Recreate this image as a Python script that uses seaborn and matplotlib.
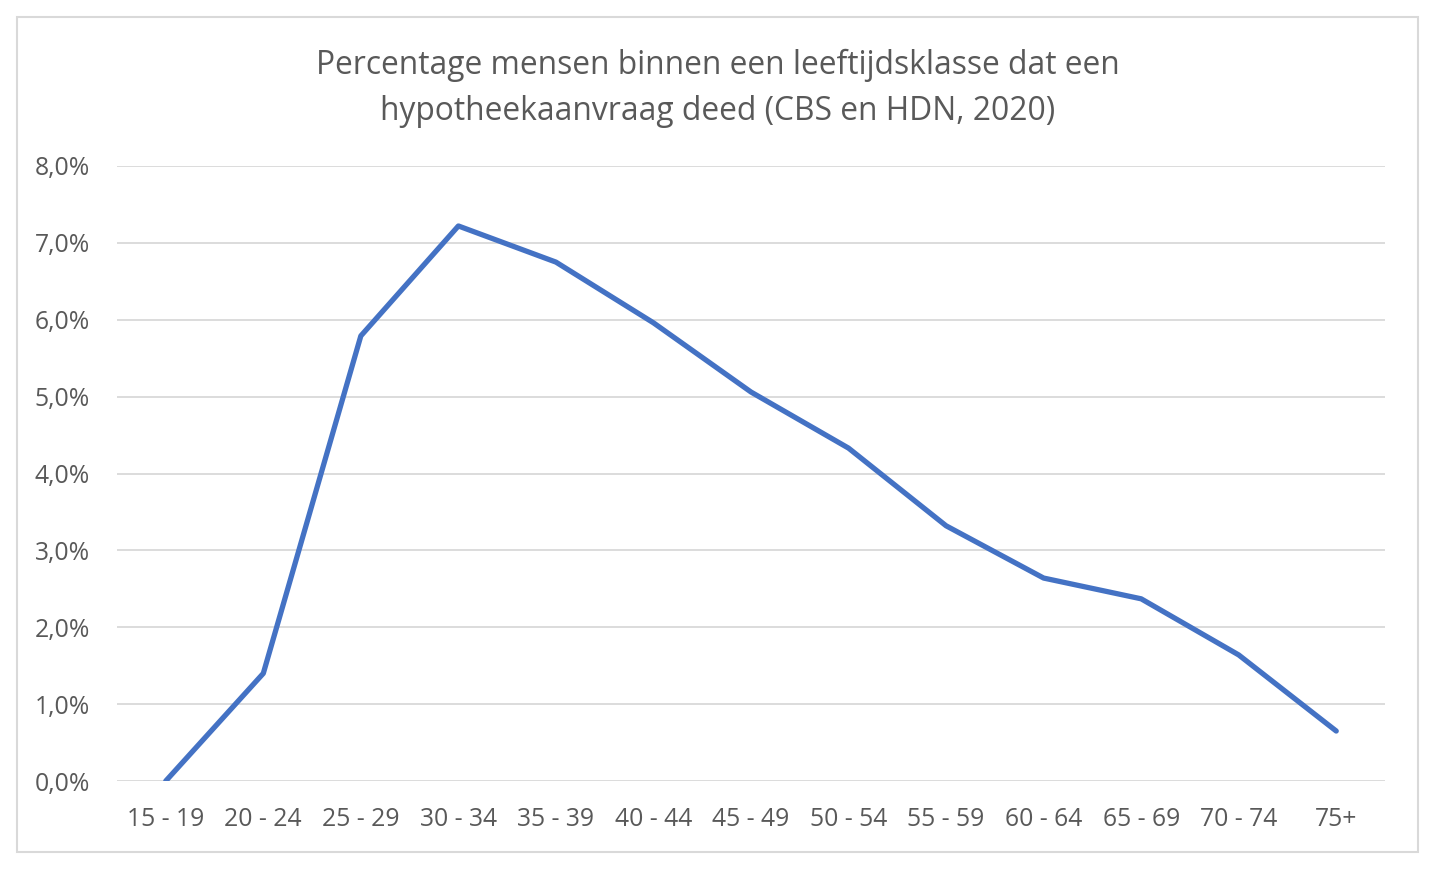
import matplotlib
matplotlib.use("Agg")
import matplotlib.pyplot as plt
import seaborn as sns
import pandas as pd
from matplotlib.patches import Rectangle
from matplotlib.ticker import FuncFormatter, MultipleLocator

categories = ["15 - 19", "20 - 24", "25 - 29", "30 - 34", "35 - 39", "40 - 44", "45 - 49",
              "50 - 54", "55 - 59", "60 - 64", "65 - 69", "70 - 74", "75+"]
percentages = [0.0, 1.40, 5.79, 7.22, 6.75, 5.96, 5.06, 4.33, 3.32, 2.64, 2.37, 1.64, 0.65]
title_text = "Percentage mensen binnen een leeftijdsklasse dat een\nhypotheekaanvraag deed (CBS en HDN, 2020)"

df = pd.DataFrame({"cat": categories, "pct": percentages, "idx": range(len(categories))})

sns.set_theme(style="white")
plt.rcParams["font.family"] = ["Open Sans", "DejaVu Sans"]

fig = plt.figure(figsize=(14.4, 8.75), dpi=100)
fig.patch.set_facecolor("white")
ax = fig.add_axes([117/1440, 1-781/875, (1385-117)/1440, (781-166)/875])

sns.lineplot(data=df, x="idx", y="pct", ax=ax, color="#4472C4", linewidth=3.8,
             solid_capstyle="round", solid_joinstyle="round", zorder=3)

ax.set_xlim(-0.5, len(categories) - 0.5)
ax.set_ylim(0, 8)
ax.yaxis.set_major_locator(MultipleLocator(1))
ax.yaxis.set_major_formatter(FuncFormatter(lambda v, p: f"{v:.1f}%".replace(".", ",")))
ax.set_xticks(range(len(categories)))
ax.set_xticklabels(categories)
ax.grid(axis="y", color="#D9D9D9", linewidth=1.3)
ax.set_axisbelow(True)
for s in ax.spines.values():
    s.set_visible(False)
ax.tick_params(axis="both", length=0, labelsize=17.8, labelcolor="#595959")
ax.tick_params(axis="y", pad=19.5)
ax.tick_params(axis="x", pad=18.5)
ax.set_xlabel("")
ax.set_ylabel("")

fig.text(718/1440, 1-88.5/875, title_text, ha="center", va="center", fontsize=22.9,
         color="#595959", linespacing=1.5)

fig.patches.append(Rectangle((17/1440, 1-852/875), (1418-17)/1440, (852-17)/875,
                             transform=fig.transFigure, fill=False, edgecolor="#D9D9D9",
                             linewidth=1.5))

fig.savefig("out.png", dpi=100, facecolor="white")
